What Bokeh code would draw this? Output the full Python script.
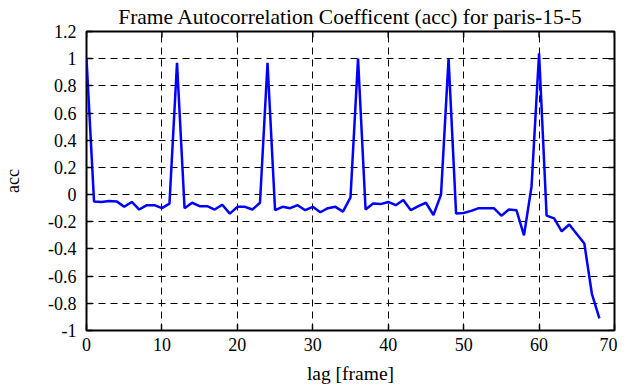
import math
from bokeh.plotting import figure
from bokeh.models import FixedTicker, Range1d, Title
from bokeh.embed import file_html
from bokeh.resources import INLINE

# ---- data ----
lag = list(range(0, 69))
acc = [1.0, -0.05, -0.054, -0.047, -0.05, -0.09, -0.054, -0.11, -0.078, -0.078,
       -0.10, -0.066, 0.97, -0.10, -0.06, -0.085, -0.085, -0.11, -0.075, -0.14,
       -0.09, -0.09, -0.11, -0.06, 0.97, -0.115, -0.09, -0.10, -0.078, -0.115,
       -0.09, -0.13, -0.10, -0.09, -0.125, -0.02, 1.0, -0.11, -0.066, -0.07,
       -0.054, -0.078, -0.04, -0.115, -0.085, -0.06, -0.15, 0.0, 1.0, -0.14,
       -0.135, -0.12, -0.10, -0.10, -0.10, -0.155, -0.11, -0.115, -0.30, 0.06,
       1.04, -0.155, -0.175, -0.27, -0.22, -0.29, -0.36, -0.73, -0.91]

x_min, x_max = 0, 70
y_min, y_max = -1.0, 1.2
x_ticks = [0, 10, 20, 30, 40, 50, 60, 70]
y_ticks = [-1.0, -0.8, -0.6, -0.4, -0.2, 0.0, 0.2, 0.4, 0.6, 0.8, 1.0, 1.2]
y_tick_labels = ["-1", "-0.8", "-0.6", "-0.4", "-0.2", "0", "0.2", "0.4",
                 "0.6", "0.8", "1", "1.2"]

title_text = "Frame Autocorrelation Coefficent (acc) for paris-15-5"
x_label = "lag [frame]"
y_label = "acc"

FONT = "Liberation Serif"

p = figure(width=609, height=379, output_backend="svg", toolbar_location=None,
           x_range=Range1d(x_min, x_max), y_range=Range1d(y_min, y_max),
           min_border_left=78, min_border_right=3, min_border_top=23,
           min_border_bottom=57, title=None)
p.frame_width = 528
p.frame_height = 299
p.background_fill_color = "white"
p.border_fill_color = "white"
p.outline_line_color = "black"
p.outline_line_width = 2
p.outline_line_alpha = 1

t = Title(text=title_text, align="center", text_font=FONT, text_font_size="21.5px",
          text_font_style="normal", text_color="black", standoff=5, offset=0)
p.add_layout(t, "above")

for g, tk in ((p.xgrid, x_ticks), (p.ygrid, y_ticks)):
    g.ticker = FixedTicker(ticks=tk)
    g.grid_line_color = "black"
    g.grid_line_dash = "7 5"
    g.grid_line_width = 1

# mirror ticks on the top and right edges
p.ray(x=x_ticks, y=[y_max] * len(x_ticks), length=6, length_units="screen",
      angle=-math.pi / 2, line_color="black", line_width=1.5)
p.ray(x=[x_max] * len(y_ticks), y=y_ticks, length=6, length_units="screen",
      angle=math.pi, line_color="black", line_width=1.5)

p.line(lag, acc, line_color="#0000ff", line_width=2.5)

for ax in (p.xaxis[0], p.yaxis[0]):
    ax.axis_line_color = None
    ax.major_tick_in = 6
    ax.major_tick_out = 0
    ax.minor_tick_in = 0
    ax.minor_tick_out = 0
    ax.major_tick_line_color = "black"
    ax.major_tick_line_width = 1.5
    ax.major_label_text_font = FONT
    ax.major_label_text_font_size = "18px"
    ax.major_label_text_color = "black"
    ax.axis_label_text_font = FONT
    ax.axis_label_text_font_style = "normal"
    ax.axis_label_text_color = "black"

p.xaxis.axis_label_text_font_size = "19.5px"
p.yaxis.axis_label_text_font_size = "18px"
p.xaxis.ticker = FixedTicker(ticks=x_ticks)
p.yaxis.ticker = FixedTicker(ticks=y_ticks)
p.yaxis.major_label_overrides = {v: s for v, s in zip(y_ticks, y_tick_labels)}
p.xaxis.axis_label = x_label
p.yaxis.axis_label = y_label
p.xaxis.major_label_standoff = 7
p.yaxis.major_label_standoff = 10
p.xaxis.axis_label_standoff = 9
p.yaxis.axis_label_standoff = 22

open("out.html", "w").write(file_html(p, INLINE))
